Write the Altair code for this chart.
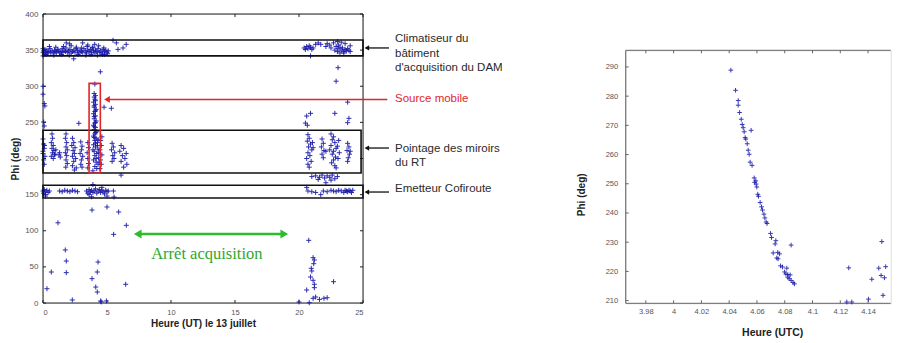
import altair as alt
import pandas as pd

FONT = "Liberation Sans"
BLUE = "#1616a8"
PLUS = "M-1,0L1,0M0,-1L0,1"

# ---------------- left chart: (hour UT, Phi deg) ----------------
x_ticks_left = [0, 5, 10, 15, 20, 25]
y_ticks_left = [0, 50, 100, 150, 200, 250, 300, 350, 400]

clim_left = [(0.0,342),(0.0,347),(0.0,352),(0.05,349),(0.1,345),(0.15,351),(0.2,347),(0.3,350),(0.35,346),
             (0.45,348),(0.55,352),(0.6,347),(0.7,349),(0.8,346),(0.9,350),(0.95,348),(1.05,347),(1.15,351),
             (1.2,349),(1.3,346),(1.4,348),(1.5,352),(1.55,347),(1.65,350),(1.75,348),(1.8,353),(1.9,347),
             (2.0,349),(2.1,351),(2.2,346),(2.3,348),(2.4,350),(2.5,347),(2.6,352),(2.7,349),(2.8,346),
             (2.9,350),(3.0,348),(3.1,347),(3.2,352),(3.3,349),(3.4,346),(3.5,350),(3.6,348),(3.7,351),
             (3.8,347),(3.85,353),(3.95,349),(4.05,346),(4.1,350),(4.2,348),(4.3,352),(4.4,347),(4.5,349),
             (4.6,346),(4.7,351),(4.8,348),(4.9,350),(5.0,347),(5.1,349),(0.5,355),(1.0,354),(1.6,355),
             (2.2,356),(2.6,354),(3.0,353),(3.45,355),(3.9,354),(4.35,356),(4.75,353),
             (0.25,344),(0.85,343),(1.45,344),(2.05,343),(2.75,344),(3.35,343),(3.75,344),(4.25,343),
             (4.65,344),(5.05,345)]
clim_sparse_left = [(1.82,360),(2.08,358.6),(3.1,360),(4.04,358),(5.47,363.6),(5.73,360),(6.5,358),
                    (6.25,353),(5.86,351),(4.8,344),(2.4,338),(3.5,357)]
between_left = [(4.48,320),(0.0,300),(0.0,289),(0.1,276),(0.15,272.7),(0.05,250.5),(0.1,245),
                (2.8,248.7),(4.77,271),(5.34,269.5)]
mobile_column = [(4.05,303),(4.0,290),(4.1,287),(4.05,282),(3.95,278),(4.1,275),(4.0,271),(4.15,268),
                 (4.05,265),(3.95,262),(4.1,259),(4.0,255),(4.15,252),(4.05,249),(3.95,246),(4.1,243),
                 (4.0,240),(4.2,237),(4.05,234),(3.95,231),(4.15,228),(4.05,225),(4.25,222),(3.95,219),
                 (4.1,216),(4.3,213),(4.0,210),(4.2,207),(4.05,204),(4.35,201),(3.95,198),(4.15,195),
                 (4.3,192),(4.05,189),(4.2,186),(3.9,183),(4.25,218),(4.3,226),(4.35,208),(3.9,212),
                 (4.15,200),(4.4,195),(4.0,285),(4.1,280),(4.0,273),(4.1,266),(4.0,258),(4.1,250),
                 (4.0,244),(4.1,236),(4.0,229),(4.1,221)]
pointage_left = [(0,227),(0.05,220),(0.1,214),(0,207),(0.15,203),(0.05,198),(0.1,192),(0,210),(0.12,218),
                 (0.7,234),(0.75,228),(0.65,222),(0.8,218),(0.7,214),(0.85,211),(0.75,208),(0.9,205),
                 (0.65,203),(0.8,200),(1.0,212),(0.95,206),(1.25,205),(1.35,202),(1.3,208),
                 (1.8,234),(1.75,228),(1.85,222),(1.8,216),(1.9,212),(1.75,208),(1.85,204),(1.8,198),
                 (1.9,193),(1.78,188),(2.3,228),(2.4,222),(2.25,218),(2.5,215),(2.35,211),(2.45,207),
                 (2.3,203),(2.55,200),(2.4,196),(2.3,190),(2.6,187),(2.45,184),(2.95,223),(3.05,217),
                 (3.0,212),(2.9,207),(3.1,203),(3.0,198),(2.95,192),(3.05,188),(3.5,222),(3.55,215),
                 (3.45,208),(3.5,200),(3.55,193),(3.5,187),(4.5,225),(4.55,218),(4.45,212),(4.6,205),
                 (4.5,198),(4.55,192),(4.45,186),(4.6,230),(5.4,221),(5.5,216),(5.35,212),(5.6,208),
                 (5.45,204),(5.55,200),(5.4,196),(6.1,218),(6.3,214),(6.0,210),(6.5,207),(6.2,204),
                 (6.4,200),(6.1,196),(6.55,192),(6.3,188),(6.1,177)]
cofiroute_left = [(0,155),(0.05,152),(0.1,157),(0.15,154),(0.2,150),(0.3,156),(0.4,153),(0.5,155),
                  (1.3,155),(1.5,154),(1.7,156),(1.9,155),(2.1,154),(2.3,156),(2.5,155),(2.7,154),
                  (3.4,155),(3.5,152),(3.6,157),(3.7,154),(3.8,156),(3.9,153),(4.0,155),(4.1,158),
                  (4.2,152),(4.3,155),(4.4,157),(4.5,153),(4.6,156),(4.7,154),(4.8,151),(4.9,156),
                  (5.0,154),(5.1,155),(5.5,155),(3.9,164),(0.2,148),(5.0,148),(4.6,160),(3.6,150),
                  (5.55,146.7),(3.8,147)]
low_left = [(1.17,111),(3.83,128.7),(5.0,132.9),(5.91,126),(6.51,107.5),(5.52,95),(1.74,73.4),
            (1.82,58.1),(1.82,42),(0.65,42.9),(4.3,56.7),(4.24,42.9),(3.83,33.7),(4.12,22.1),
            (4.24,15.2),(6.46,25.9),(0.31,19.8),(2.29,4.2),(4.5,2.8),(4.55,1.5),(4.95,2.8)]
clim_right = [(20.4,353),(20.5,351),(20.6,355),(20.7,352),(20.8,356),(20.9,354),(21.0,351),(21.1,353),
              (20.9,342),(21.3,358),(21.5,360),(21.7,358),(22.1,355),(22.2,359),(22.4,357),(22.5,353),
              (22.7,360),(22.8,350),(22.9,355),(23.0,348),(23.05,352),(23.1,357),(23.2,346),(23.3,350),
              (23.4,353),(23.5,348),(23.6,351),(23.7,349),(23.8,352),(23.9,350),(24.0,348),(23.0,362),
              (23.3,361),(23.6,359),(24.0,356),(23.2,354),(23.5,346)]
between_right = [(23.05,325.7),(22.9,307),(23.8,278),(20.6,258.8),(20.9,262.5),(20.65,246),(20.5,249),
                 (22.8,262.5),(23.9,255.6),(23.8,249.6)]
pointage_right = [(20.7,233),(20.8,228),(20.65,224),(20.9,220),(20.75,216),(21.0,212),(20.7,208),
                  (20.85,204),(20.6,200),(20.95,196),(20.7,192),(20.8,188),(21.1,215),(21.05,222),
                  (21.8,227),(21.9,221),(21.75,216),(21.95,211),(21.8,206),(21.9,201),(22.1,210),
                  (22.5,234),(22.7,230),(22.6,226),(22.8,222),(22.5,218),(22.9,214),(22.7,210),
                  (22.6,206),(22.85,202),(22.7,198),(22.55,194),(22.8,190),(22.9,187),(23.1,225),
                  (23.0,217),(23.15,208),(22.4,212),(23.05,200),(23.8,221),(23.9,216),(23.75,211),
                  (23.95,206),(23.85,201),(23.8,196),(24.0,210),
                  (21.0,175),(21.3,176),(21.6,174),(21.8,177),(22.0,173),(22.2,176),(22.4,174),
                  (22.6,177),(22.8,172),(23.0,175),(22.1,166.5),(21.5,171),(22.5,170)]
cofiroute_right = [(20.6,160),(20.7,155),(21.0,154),(21.3,153),(21.7,150),(21.9,155),(22.2,154),
                   (22.5,156),(22.7,155),(22.9,154),(23.1,156),(23.3,155),(23.5,153),(23.6,156),
                   (23.7,155),(23.8,154),(23.9,156),(24.0,155),(24.1,153),(24.2,156)]
low_right = [(20.76,86.7),(21.1,62.7),(21.2,59.5),(21.15,54.4),(20.96,48),(21.0,44.3),(20.9,36),
             (21.1,31.4),(21.2,25.9),(22.7,29.5),(20.6,18),(21.2,21.2),(21.1,6.5),(21.3,8.3),
             (21.6,5),(21.95,6.5),(20.8,0.4),(20.0,1.4),(22.2,7.3)]

# annotation boxes (hour range, Phi range)
bands_h = [(0, 25), (0, 24.85), (0, 25)]
bands_phi = [(342, 364), (180, 239), (145.3, 163)]
mobile_box = [(3.6, 4.48, 179.5, 304)]

# ---------------- right chart: zoom on the mobile source ----------------
x_ticks_right = [3.98, 4.0, 4.02, 4.04, 4.06, 4.08, 4.1, 4.12, 4.14]
y_ticks_right = [210, 220, 230, 240, 250, 260, 270, 280, 290]
zoom_h = [4.0412,4.0446,4.0465,4.0465,4.0475,4.0487,4.0494,4.0501,4.0508,4.0558,4.0515,4.052,4.053,
          4.0537,4.0544,4.0551,4.0565,4.058,4.0592,4.0594,4.0599,4.0583,4.0606,4.0611,4.0623,4.0633,
          4.064,4.065,4.0657,4.0666,4.0673,4.0698,4.0705,4.0736,4.0731,4.0717,4.075,4.0763,4.0743,
          4.0752,4.077,4.0784,4.0815,4.0799,4.0808,4.0822,4.0839,4.0822,4.0832,4.0846,4.086,4.087,
          4.0846,4.1261,4.1247,4.1283,4.1403,4.1427,4.1477,4.1499,4.1494,4.1518,4.1527,4.1508]
zoom_phi = [288.9,282,278.5,276.9,274.4,272.1,270.3,269.2,267.8,268.3,265.8,265.3,263.7,
            261.5,260.1,257.4,256.3,252,251,249.9,248.9,250.5,246.4,245.7,243.6,242.1,
            241,239.6,238.3,236.9,236.4,233,231.6,230.5,229.4,226.3,226.5,226,224.6,
            224.3,221.9,221.5,221.1,219.8,219.1,218.9,218.8,218,217.5,216.9,216.2,215.7,
            229,221.2,209.5,209.5,210.5,217.3,221.1,230.2,218.6,217.8,221.6,211.8]

# ============ build left panel ============
LW, LH = 320, 289
xs_l = alt.Scale(domain=[0, 25], nice=False, zero=False)
ys_l = alt.Scale(domain=[0, 400], nice=False, zero=False)
ax_xl = alt.Axis(values=x_ticks_left, title="Heure (UT) le 13 juillet", ticks=False, domain=False,
                 grid=False, labelFontSize=7.5, labelColor="#555", labelPadding=5, labelFont=FONT,
                 titleFont=FONT, titleFontSize=10, titleFontWeight="bold", titleColor="#222",
                 titlePadding=3)
ax_yl = alt.Axis(values=y_ticks_left, title="Phi (deg)", ticks=False, domain=False, grid=False,
                 labelFontSize=8, labelColor="#555", labelPadding=5, labelFont=FONT, titleFont=FONT,
                 titleFontSize=10, titleFontWeight="bold", titleColor="#222", titlePadding=4)


def XL(f):
    return alt.X(f + ":Q", scale=xs_l, axis=ax_xl)


def YL(f):
    return alt.Y(f + ":Q", scale=ys_l, axis=ax_yl)


pts_left = (clim_left + clim_sparse_left + between_left + mobile_column + pointage_left +
            cofiroute_left + low_left + clim_right + between_right + pointage_right +
            cofiroute_right + low_right)
df_left = pd.DataFrame(pts_left, columns=["h", "phi"])

frame_l = alt.Chart(pd.DataFrame({"h": [0], "h2": [25], "phi": [0], "phi2": [400]})).mark_rect(
    fillOpacity=0, stroke="#222", strokeWidth=1).encode(x=XL("h"), x2="h2:Q", y=YL("phi"), y2="phi2:Q")

tx = pd.DataFrame({"h": x_ticks_left})
ty = pd.DataFrame({"phi": y_ticks_left})
tick_b = alt.Chart(tx).mark_rule(color="#222").encode(x=XL("h"), y=alt.value(LH), y2=alt.value(LH - 3))
tick_t = alt.Chart(tx).mark_rule(color="#222").encode(x=XL("h"), y=alt.value(0), y2=alt.value(3))
tick_l = alt.Chart(ty).mark_rule(color="#222").encode(y=YL("phi"), x=alt.value(0), x2=alt.value(3))
tick_r = alt.Chart(ty).mark_rule(color="#222").encode(y=YL("phi"), x=alt.value(LW), x2=alt.value(LW - 3))

scatter_l = alt.Chart(df_left).mark_point(shape=PLUS, filled=False, size=25, strokeWidth=1,
                                          color=BLUE, opacity=0.9).encode(x=XL("h"), y=YL("phi"))

df_bands = pd.DataFrame({"h": [b[0] for b in bands_h], "h2": [b[1] for b in bands_h],
                         "phi": [b[0] for b in bands_phi], "phi2": [b[1] for b in bands_phi]})
boxes = alt.Chart(df_bands).mark_rect(fillOpacity=0, stroke="#111", strokeWidth=1.6).encode(
    x=XL("h"), x2="h2:Q", y=YL("phi"), y2="phi2:Q")
df_mob = pd.DataFrame(mobile_box, columns=["h", "h2", "phi", "phi2"])
red_box = alt.Chart(df_mob).mark_rect(fillOpacity=0, stroke="#e0262a", strokeWidth=1.6).encode(
    x=XL("h"), x2="h2:Q", y=YL("phi"), y2="phi2:Q")

# arrows
df_black_arr = pd.DataFrame({"h": [25.3, 25.3, 25.3], "h2": [27.03, 27.03, 27.03],
                             "phi": [353, 214.5, 153.6]})
black_lines = alt.Chart(df_black_arr).mark_rule(color="#111", strokeWidth=1.3, clip=False).encode(
    x=XL("h"), x2="h2:Q", y=YL("phi"))
black_heads = alt.Chart(df_black_arr).mark_point(shape="triangle-left", filled=True, size=28,
                                                 color="#111", opacity=1, clip=False).encode(
    x=XL("h"), y=YL("phi"))
df_red_arr = pd.DataFrame({"h": [5.0], "h2": [26.9], "phi": [281.7]})
red_line = alt.Chart(df_red_arr).mark_rule(color="#e0262a", strokeWidth=1.4, clip=False).encode(
    x=XL("h"), x2="h2:Q", y=YL("phi"))
red_head = alt.Chart(df_red_arr).mark_point(shape="triangle-left", filled=True, size=45,
                                            color="#e0262a", opacity=1).encode(x=XL("h"), y=YL("phi"))
df_green = pd.DataFrame({"h": [7.4], "h2": [18.85], "phi": [95.5]})
green_line = alt.Chart(df_green).mark_rule(color="#2bbd2b", strokeWidth=2.5).encode(
    x=XL("h"), x2="h2:Q", y=YL("phi"))
green_l = alt.Chart(df_green).mark_point(shape="triangle-left", filled=True, size=80, color="#2bbd2b",
                                         opacity=1).encode(x=XL("h"), y=YL("phi"))
green_r = alt.Chart(df_green).mark_point(shape="triangle-right", filled=True, size=80, color="#2bbd2b",
                                         opacity=1).encode(x=alt.X("h2:Q", scale=xs_l, axis=ax_xl),
                                                           y=YL("phi"))
green_txt = alt.Chart(pd.DataFrame({"h": [12.8], "phi": [67.4], "t": ["Arrêt acquisition"]})).mark_text(
    font="Liberation Serif", fontSize=16.5, color="#2ea82e", align="center", baseline="middle").encode(
    x=XL("h"), y=YL("phi"), text="t:N")

ann_black = pd.DataFrame({"h": [27.5] * 6,
                          "phi": [365.4, 345.0, 325.7, 213.0, 194.2, 158.2],
                          "t": ["Climatiseur du", "bâtiment", "d'acquisition du DAM",
                                "Pointage des miroirs", "du RT", "Emetteur Cofiroute"]})
txt_black = alt.Chart(ann_black).mark_text(font=FONT, fontSize=11.5, color="#2a2a2a", align="left",
                                           baseline="middle", clip=False).encode(
    x=XL("h"), y=YL("phi"), text="t:N")
ann_red = pd.DataFrame({"h": [27.5], "phi": [282.4], "t": ["Source mobile"]})
txt_red = alt.Chart(ann_red).mark_text(font=FONT, fontSize=11.5, color="#e0262a", align="left",
                                       baseline="middle", clip=False).encode(
    x=XL("h"), y=YL("phi"), text="t:N")

left = alt.layer(frame_l, tick_b, tick_t, tick_l, tick_r, scatter_l, boxes, red_box,
                 black_lines, black_heads, red_line, red_head, green_line, green_l, green_r,
                 green_txt, txt_black, txt_red).properties(width=LW, height=LH)

# ============ build right panel (plot area starts 36 px lower) ============
RW, RH = 265, 253
xr0, xr1 = 3.9655, 4.1563
yr0, yr1 = 209.07, 295.7
xs_r = alt.Scale(domain=[xr0, xr1], nice=False, zero=False)
ys_r = alt.Scale(domain=[yr0, yr1], nice=False, zero=False)
ax_xr = alt.Axis(values=x_ticks_right, format="~g", title="Heure (UTC)", ticks=False, domain=False,
                 grid=False, labelFontSize=7.5, labelColor="#555", labelPadding=4, labelFont=FONT,
                 titleFont=FONT, titleFontSize=10.5, titleFontWeight="bold", titleColor="#222",
                 titlePadding=13, titleX=146.5)
ax_yr = alt.Axis(values=y_ticks_right, title="Phi (deg)", ticks=False, domain=False, grid=False,
                 labelFontSize=7.5, labelColor="#555", labelPadding=8, labelFont=FONT, titleFont=FONT,
                 titleFontSize=10, titleFontWeight="bold", titleColor="#222", titlePadding=19,
                 titleY=144)


def XR(f):
    return alt.X(f + ":Q", scale=xs_r, axis=ax_xr)


def YR(f):
    return alt.Y(f + ":Q", scale=ys_r, axis=ax_yr)


# frame edges (top, left, bottom) drawn as rules over the light view outline
df_hedges = pd.DataFrame({"h": [xr0, xr0], "h2": [xr1, xr1], "phi": [yr1, yr0]})
frame_h = alt.Chart(df_hedges).mark_rule(color="#666", strokeWidth=1).encode(
    x=XR("h"), x2="h2:Q", y=YR("phi"))
df_vedge = pd.DataFrame({"h": [xr0], "phi": [yr0], "phi2": [yr1]})
frame_v = alt.Chart(df_vedge).mark_rule(color="#666", strokeWidth=1).encode(
    x=XR("h"), y=YR("phi"), y2="phi2:Q")
rtx = pd.DataFrame({"h": x_ticks_right})
rty = pd.DataFrame({"phi": y_ticks_right})
rtick_b = alt.Chart(rtx).mark_rule(color="#666").encode(x=XR("h"), y=alt.value(RH), y2=alt.value(RH - 3))
rtick_t = alt.Chart(rtx).mark_rule(color="#666").encode(x=XR("h"), y=alt.value(0), y2=alt.value(3))
rtick_l = alt.Chart(rty).mark_rule(color="#666").encode(y=YR("phi"), x=alt.value(0), x2=alt.value(3))
df_zoom = pd.DataFrame({"h": zoom_h, "phi": zoom_phi})
scatter_r = alt.Chart(df_zoom).mark_point(shape=PLUS, filled=False, size=22, strokeWidth=1,
                                          color=BLUE, opacity=0.85).encode(x=XR("h"), y=YR("phi"))

right = alt.layer(frame_h, frame_v, rtick_b, rtick_t, rtick_l, scatter_r).properties(width=RW, height=RH)

# invisible spacer that pushes the zoom panel down
spacer = alt.Chart(pd.DataFrame({"s": [0]})).mark_point(opacity=0).encode(
    x=alt.X("s:Q", axis=None), y=alt.Y("s:Q", axis=None)
).properties(width=1, height=1, view=alt.ViewBackground(stroke="transparent"))

right_col = alt.vconcat(spacer, right, spacing=35.3, bounds="flush")

chart = alt.hconcat(left, right_col, spacing=262.7, bounds="flush").properties(
    padding={"left": 2, "top": 1, "right": 0, "bottom": 0}, background="white"
)

chart.save("out.html", embed_options={"renderer": "svg", "actions": False})
